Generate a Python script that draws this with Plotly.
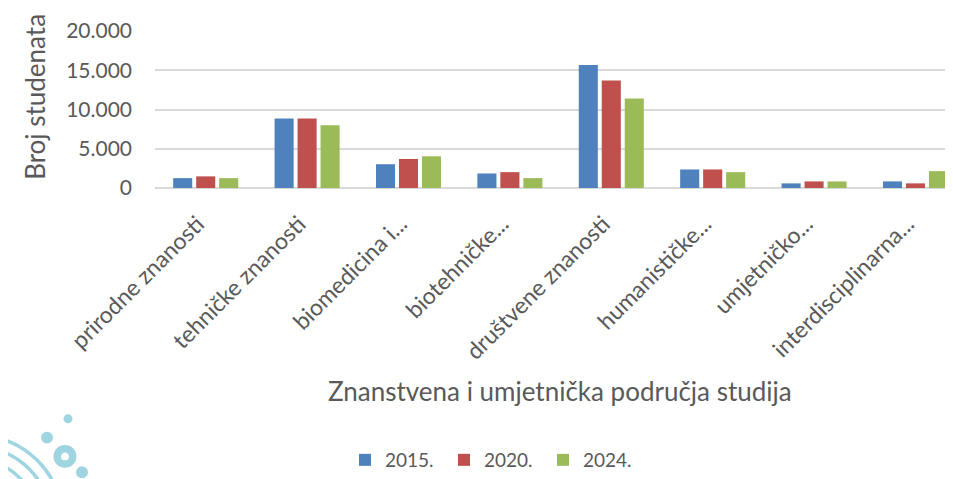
import plotly.graph_objects as go

categories = ["prirodne znanosti", "tehničke znanosti", "biomedicina i...", "biotehničke...",
              "društvene znanosti", "humanističke...", "umjetničko...", "interdisciplinarna..."]
v2015 = [1260, 8840, 3030, 1850, 15660, 2360, 590, 840]
v2020 = [1480, 8840, 3700, 2020, 13680, 2360, 840, 590]
v2024 = [1260, 8000, 4040, 1260, 11400, 2020, 840, 2150]
series_names = ["2015.", "2020.", "2024."]
colors = ["#4F81BD", "#C0504D", "#9BBB59"]
y_ticks = [0, 5000, 10000, 15000, 20000]
y_tick_text = ["0", "5.000", "10.000", "15.000", "20.000"]

OFF = 8  # page body margin
W, H = 953 - OFF, 479 - OFF
# plot area in page pixel coordinates
L, R_EDGE, TOP, BOT = 155, 953, 31.5, 190
FONT = "Lato, 'Open Sans', sans-serif"
GRAY = "#595959"

fig = go.Figure()
for name, vals, c in zip(series_names, [v2015, v2020, v2024], colors):
    fig.add_trace(go.Bar(x=categories, y=vals, name=name, marker=dict(color=c, line=dict(width=0))))

def px(x):
    return (x - L) / (R_EDGE - L)

def py(y):
    return (BOT - y) / (BOT - TOP)

deco = "#9fd4e1"
shapes = []
def circ(cx, cy, r, fill=True, width=3):
    shapes.append(dict(type="circle", xref="paper", yref="paper",
                       x0=px(cx - r), x1=px(cx + r), y0=py(cy + r), y1=py(cy - r),
                       fillcolor=deco if fill else "rgba(0,0,0,0)",
                       line=dict(color=deco, width=0 if fill else width), layer="above"))
# decorative logo fragment (bottom-left)
circ(68, 423, 4.5)
circ(47, 442, 6)
circ(82, 477, 6)
circ(65, 461, 7.75, fill=False, width=7.5)
for r in (63, 76, 88):
    circ(-25, 527, r, fill=False, width=3.5)

fig.update_layout(
    width=W, height=H,
    margin=dict(l=L - OFF, r=953 - R_EDGE, t=TOP - OFF, b=479 - BOT, pad=0),
    paper_bgcolor="white", plot_bgcolor="white",
    barmode="group", bargap=0.32, bargroupgap=0.17,
    font=dict(family=FONT, color=GRAY, size=20),
    showlegend=True,
    legend=dict(orientation="h", x=px(345), xanchor="left", y=py(466), yanchor="middle",
                font=dict(size=19, color=GRAY), itemwidth=30, entrywidth=54,
                traceorder="normal"),
    xaxis=dict(range=[-0.5, 7.37], tickangle=-45, showgrid=False, showline=False,
               ticks="", tickfont=dict(size=23, color=GRAY), ticklabelstandoff=17,
               ticklabelshift=-8, fixedrange=True),
    yaxis=dict(range=[0, 20000], tickvals=y_ticks, ticktext=y_tick_text,
               showgrid=True, gridcolor="#d9d9d9", gridwidth=2, zeroline=True,
               zerolinecolor="#d9d9d9", zerolinewidth=2, showline=False, ticks="",
               tickfont=dict(size=21, color=GRAY), ticklabelstandoff=22, fixedrange=True),
    shapes=shapes,
    annotations=[
        dict(text="Broj studenata", xref="paper", yref="paper", x=px(35), y=py(98),
             xanchor="center", yanchor="middle", textangle=-90, showarrow=False,
             font=dict(size=26, color=GRAY)),
        dict(text="Znanstvena i umjetnička područja studija", xref="paper", yref="paper",
             x=px(560), y=py(395), xanchor="center", yanchor="middle", showarrow=False,
             font=dict(size=26, color=GRAY)),
    ],
)

fig.write_html("out.html")
